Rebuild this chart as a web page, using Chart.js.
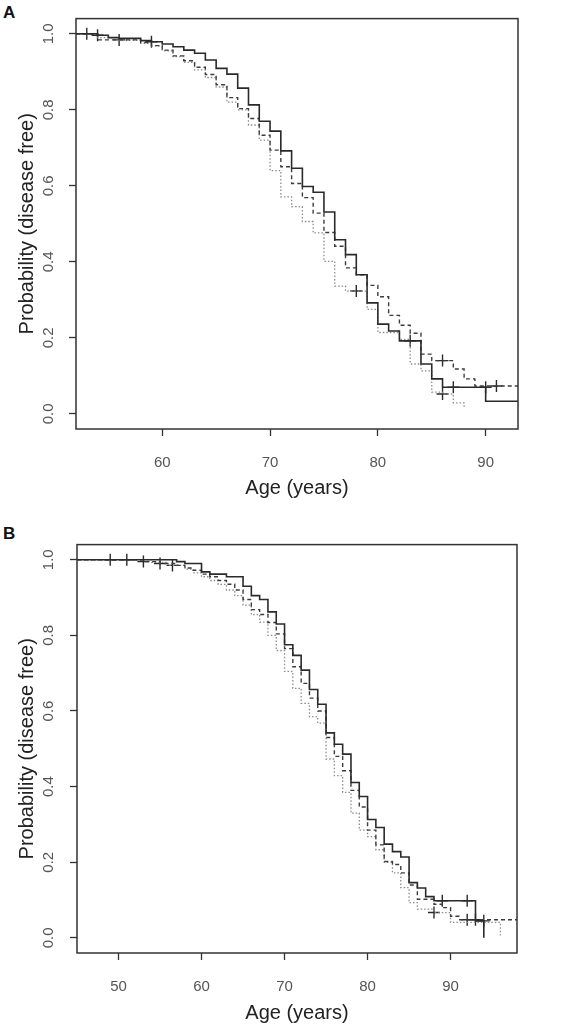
<!DOCTYPE html>
<html>
<head>
<meta charset="utf-8">
<script src="https://cdn.jsdelivr.net/npm/chart.js@4.4.1/dist/chart.umd.min.js"></script>
<style>
  body { margin: 0; background: #fff; width: 562px; height: 1027px; position: relative; overflow: hidden; font-family: "Liberation Sans", Arial, sans-serif; }
  .panel-label { position: absolute; left: 3px; font-weight: bold; font-size: 17px; color: #111; }
  canvas { position: absolute; left: 0; }
</style>
</head>
<body>
<div class="panel-label" style="top:3px">A</div>
<canvas id="chartA" width="562" height="505" style="top:0"></canvas>
<div class="panel-label" style="top:524px">B</div>
<canvas id="chartB" width="562" height="502" style="top:525px"></canvas>

<script>
// ---- Panel A: age where each step starts, survival from that age on ----
var ageSolidA = [52,54,55,56,58,59,60,61,62,63,64,65,66,67,68,69,70,71,72,73,74,75,76,77,78,79,80,81,82,84,85,86,90,93];
var survSolidA = [1,.996,.99,.988,.982,.979,.973,.966,.957,.949,.931,.909,.894,.857,.813,.770,.744,.692,.646,.598,.583,.531,.458,.419,.366,.292,.236,.218,.192,.131,.092,.070,.033,.033];
var ageDashA = [52,54,58,59,60,61,62,63,64,65,66,67,68,69,70,71,72,73,74,75,76,77,78,79,80,81,82,83,84,85,87,88,89,93];
var survDashA = [1,.984,.977,.969,.957,.942,.929,.912,.893,.866,.832,.803,.777,.733,.694,.650,.606,.569,.528,.477,.441,.384,.366,.338,.308,.259,.233,.212,.157,.140,.118,.092,.073,.073];
var ageDotA = [52,54,56,58,59,60,61,62,63,64,65,66,67,68,69,70,71,72,73,74,75,76,77,79,80,82,83,84,85,86,87,88];
var survDotA = [1,.99,.983,.975,.968,.955,.94,.925,.905,.885,.86,.82,.80,.76,.72,.64,.571,.545,.506,.476,.401,.336,.323,.275,.214,.196,.131,.113,.057,.052,.029,.013];
// censored observations (+)
var censAgeA = [53,54,59,83,87,90,56,86,91,78,86];
var censSurvA = [1,.996,.979,.192,.070,.070,.984,.140,.073,.323,.052];

// ---- Panel B ----
var ageSolidB = [45,57,58,60,61,63,65,66,67,68,69,70,71,72,73,74,75,76,77,78,79,80,81,82,83,84,85,86,87,88,93,94];
var survSolidB = [1,.995,.99,.968,.962,.955,.93,.905,.895,.862,.83,.775,.747,.708,.657,.618,.542,.512,.486,.411,.374,.313,.292,.248,.228,.214,.146,.132,.109,.098,.045,0];
var ageDashB = [45,53,55,57,58,59,60,61,62,63,64,65,66,67,68,69,70,71,72,73,74,75,76,77,78,79,80,81,82,83,84,85,86,88,89,90,91,98];
var survDashB = [1,.995,.99,.985,.978,.972,.962,.955,.945,.935,.92,.895,.868,.855,.834,.804,.765,.717,.673,.634,.600,.53,.48,.442,.39,.346,.285,.246,.202,.194,.172,.14,.102,.089,.080,.057,.048,.048];
var ageDotB = [45,54,56,58,59,60,61,62,63,64,65,66,67,68,69,70,71,72,73,74,75,76,77,78,79,80,81,82,83,84,85,86,88,90,96];
var survDotB = [1,.993,.985,.975,.965,.955,.945,.935,.92,.905,.88,.855,.835,.80,.76,.705,.66,.62,.585,.568,.473,.429,.385,.33,.285,.268,.233,.20,.172,.133,.093,.076,.067,.041,.006];
var censAgeB = [49,51,89,92,94,53,55,92,93,56.5,88];
var censSurvB = [1,1,.098,.098,.045,.995,.99,.048,.048,.985,.067];

// tick labels
var yTicks = [0, 0.2, 0.4, 0.6, 0.8, 1.0];
var xTicksA = [60, 70, 80, 90];
var xTicksB = [50, 60, 70, 80, 90];

Chart.defaults.font.family = '"Liberation Sans", Arial, sans-serif';

function pts(ages, surv) {
  return ages.map(function (a, i) { return { x: a, y: surv[i] }; });
}

// draws the closed box round the plot region, like R's box()
var boxPlugin = {
  id: 'box',
  afterDatasetsDraw: function (chart) {
    var a = chart.chartArea, ctx = chart.ctx;
    ctx.save();
    ctx.strokeStyle = '#333';
    ctx.lineWidth = 1.5;
    ctx.strokeRect(a.left, a.top, a.right - a.left, a.bottom - a.top);
    ctx.restore();
  }
};

function kmChart(id, p) {
  var ctx = document.getElementById(id).getContext('2d');
  return new Chart(ctx, {
    type: 'line',
    data: {
      datasets: [
        { data: pts(p.solid[0], p.solid[1]), borderColor: '#2a2a2a', borderWidth: 1.6, stepped: true, pointRadius: 0, fill: false },
        { data: pts(p.dash[0], p.dash[1]), borderColor: '#3c3c3c', borderWidth: 1.4, borderDash: [4, 3], stepped: true, pointRadius: 0, fill: false },
        { data: pts(p.dot[0], p.dot[1]), borderColor: '#8c8c8c', borderWidth: 1.3, borderDash: [1.5, 2], stepped: true, pointRadius: 0, fill: false },
        { data: pts(p.cens[0], p.cens[1]), showLine: false, pointStyle: 'cross', pointRadius: 6, borderColor: '#2a2a2a', borderWidth: 1.4 }
      ]
    },
    options: {
      responsive: false,
      animation: false,
      layout: { padding: { top: p.top, right: p.right, left: 0, bottom: 0 } },
      plugins: { legend: { display: false }, tooltip: { enabled: false } },
      scales: {
        x: {
          type: 'linear',
          min: p.xmin,
          max: p.xmax,
          afterBuildTicks: function (s) { s.ticks = p.xticks.map(function (v) { return { value: v }; }); },
          afterFit: function (s) { s.height = p.xh; },
          grid: { drawOnChartArea: false, drawTicks: true, tickLength: 7, tickColor: '#333', tickWidth: 1.3 },
          border: { display: false },
          ticks: { color: '#555', font: { size: 15 }, padding: 18, maxRotation: 0 },
          title: { display: true, text: 'Age (years)', color: '#222', font: { size: 20 }, padding: { top: 0, bottom: p.xtpad } }
        },
        y: {
          min: -0.04,
          max: 1.04,
          afterBuildTicks: function (s) { s.ticks = yTicks.map(function (v) { return { value: v }; }); },
          afterFit: function (s) { s.width = p.yw; },
          grid: { drawOnChartArea: false, drawTicks: true, tickLength: 7, tickColor: '#333', tickWidth: 1.3 },
          border: { display: false },
          ticks: {
            color: '#555', font: { size: 15 }, padding: p.ytpad, minRotation: 90, maxRotation: 90, crossAlign: 'center',
            callback: function (v) { return v.toFixed(1); }
          },
          title: { display: true, text: 'Probability (disease free)', color: '#222', font: { size: 20 }, padding: { top: 15, bottom: 0 } }
        }
      }
    },
    plugins: [boxPlugin]
  });
}

kmChart('chartA', {
  solid: [ageSolidA, survSolidA], dash: [ageDashA, survDashA], dot: [ageDotA, survDotA], cens: [censAgeA, censSurvA],
  xmin: 52, xmax: 93, xticks: xTicksA, top: 17, right: 44, xh: 76, yw: 76, xtpad: 5, ytpad: 9.6
});
kmChart('chartB', {
  solid: [ageSolidB, survSolidB], dash: [ageDashB, survDashB], dot: [ageDotB, survDotB], cens: [censAgeB, censSurvB],
  xmin: 45, xmax: 98, xticks: xTicksB, top: 17, right: 45, xh: 74, yw: 77, xtpad: 2, ytpad: 10.6
});
</script>
</body>
</html>
